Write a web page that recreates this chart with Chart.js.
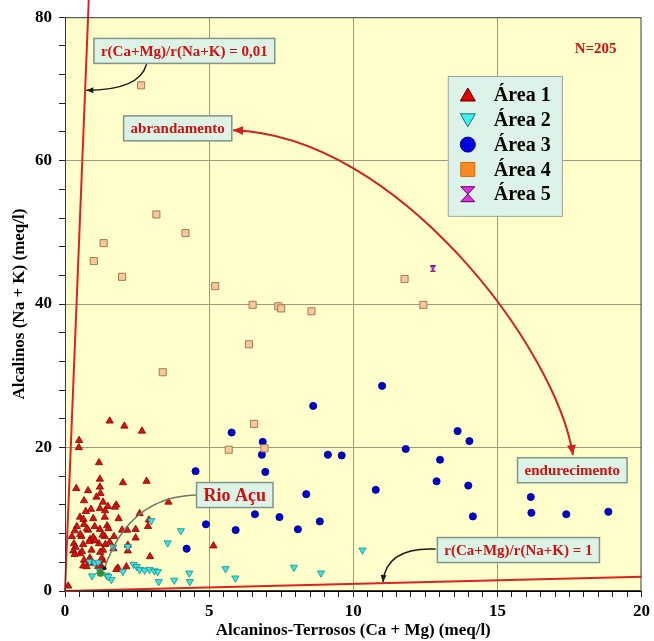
<!DOCTYPE html>
<html>
<head>
<meta charset="utf-8">
<script src="https://cdn.jsdelivr.net/npm/chart.js@4.4.1/dist/chart.umd.min.js"></script>
<style>
  html, body { margin: 0; padding: 0; background: #fff; }
  canvas { display: block; }
</style>
</head>
<body>
<canvas id="chart" width="654" height="641"></canvas>
<script>
// Ca+Mg (x) vs Na+K (y), meq/l, by sampling area
const area1 = [
  [1.55, 23.7], [2.06, 23.0], [2.67, 22.3], [0.49, 21.0], [0.48, 20.0], [1.18, 17.9],
  [2.01, 15.1], [2.83, 15.3], [1.21, 15.6], [0.39, 14.3], [0.80, 14.0], [1.21, 14.5],
  [1.23, 13.6], [1.09, 13.1], [0.66, 12.6], [1.32, 12.4], [1.78, 12.0], [3.59, 12.4],
  [0.90, 11.4], [1.21, 11.5], [1.49, 11.8], [0.72, 11.1], [1.73, 11.7], [1.39, 11.2],
  [2.59, 10.8], [0.52, 10.3], [0.98, 10.1], [1.38, 10.3], [1.86, 10.1], [0.64, 10.0],
  [0.66, 9.3], [1.03, 9.0], [1.46, 9.1], [2.88, 9.0], [2.91, 9.9], [0.41, 9.0],
  [0.34, 8.4], [0.80, 8.5], [1.21, 8.6], [1.98, 8.5], [2.16, 8.5], [2.45, 8.6], [0.76, 8.7], [1.51, 8.7],
  [0.24, 7.6], [0.57, 7.6], [0.98, 7.5], [1.38, 7.6], [1.70, 7.6], [2.45, 7.4], [0.53, 7.9], [0.87, 7.2], [1.30, 7.8],
  [0.31, 6.6], [0.63, 6.5], [0.84, 6.9], [1.18, 6.6], [1.55, 6.8], [2.18, 6.4], [0.36, 6.1], [1.05, 7.0], [1.40, 6.5],
  [0.29, 5.6], [0.52, 5.2], [0.92, 5.7], [1.32, 5.7], [2.18, 5.6], [0.59, 5.5], [1.22, 5.4], [1.68, 5.9], [0.33, 5.1],
  [5.15, 6.3], [0.66, 4.3], [0.86, 4.6], [2.95, 4.8], [1.30, 4.3], [0.87, 3.9], [1.28, 4.6],
  [0.63, 3.5], [0.75, 3.4], [1.27, 3.4], [1.84, 3.2], [2.13, 3.4], [1.78, 3.0], [1.16, 3.4],
  [0.11, 0.7]
];
const area2 = [
  [2.99, 9.8], [4.02, 8.4], [3.56, 6.7], [1.67, 6.1], [2.18, 6.2], [0.86, 4.1], [1.03, 3.9], [1.15, 4.0],
  [0.94, 2.1], [1.44, 2.2], [1.61, 1.6], [1.50, 2.0], [1.21, 2.8], [2.01, 2.7], [2.38, 3.7], [2.49, 3.4],
  [2.59, 3.0], [2.76, 2.9], [2.93, 3.0], [3.10, 2.8], [3.22, 2.7], [3.25, 1.3], [3.79, 1.5], [4.31, 2.5],
  [4.33, 1.3], [5.57, 3.1], [5.91, 1.8], [7.94, 3.3], [8.88, 2.5], [10.32, 5.7]
];
const area3 = [
  [4.53, 16.7], [5.78, 22.1], [6.86, 20.8], [6.83, 19.0], [6.95, 16.6], [8.61, 25.8], [8.37, 13.5],
  [6.59, 10.7], [7.44, 10.3], [4.89, 9.3], [5.92, 8.5], [8.08, 8.6], [8.84, 9.7], [4.22, 5.9],
  [9.12, 19.0], [9.60, 18.9], [11.00, 28.6], [11.82, 19.8], [13.62, 22.3], [14.03, 20.9], [13.01, 18.3],
  [12.89, 15.3], [13.99, 14.7], [10.78, 14.1], [16.16, 13.1], [16.18, 10.9], [17.39, 10.7], [18.85, 11.05],
  [14.15, 10.4]
];
const area4 = [
  [2.64, 70.5], [3.17, 52.5], [1.34, 48.5], [4.18, 49.9], [1.00, 46.0], [1.98, 43.8], [5.21, 42.5],
  [6.51, 39.9], [7.40, 39.7], [7.50, 39.4], [8.55, 39.0], [11.78, 43.5], [12.43, 39.9],
  [6.38, 34.4], [3.39, 30.5], [6.56, 23.3], [6.92, 19.9], [5.68, 19.7]
];
const area5 = [[12.76, 44.9]];
const rioAcu = [[1.23, 2.5]];

// reference lines r(Ca+Mg)/r(Na+K)
const ratioHigh = [[0, 0], [0.824, 82.4]];
const ratioLow = [[0, 0], [20, 2]];

const xTicks = [0, 5, 10, 15, 20];
const yTicks = [0, 20, 40, 60, 80];

const SERIF = '"Liberation Serif", "Times New Roman", serif';
const toPts = arr => arr.map(p => ({ x: p[0], y: p[1] }));

function hourglass(w, h, fill, stroke) {
  const c = document.createElement('canvas');
  c.width = w; c.height = h;
  const g = c.getContext('2d');
  g.fillStyle = fill; g.strokeStyle = stroke; g.lineWidth = 1;
  g.beginPath();
  g.moveTo(0.5, 0.5); g.lineTo(w - 0.5, 0.5);
  g.lineTo(0.5, h - 0.5); g.lineTo(w - 0.5, h - 0.5);
  g.closePath();
  g.fill(); g.stroke();
  return c;
}

// text boxes, centred on data coordinates
const notes = [
  { text: 'r(Ca+Mg)/r(Na+K) = 0,01', x: 4.14, y: 75.3, size: 15 },
  { text: 'abrandamento', x: 3.91, y: 64.5, size: 15 },
  { text: 'endurecimento', x: 17.6, y: 16.84, size: 15 },
  { text: 'Rio Açu', x: 5.89, y: 13.38, size: 18 },
  { text: 'r(Ca+Mg)/r(Na+K) = 1', x: 15.73, y: 5.71, size: 15 }
];

// thin pointers from the boxes (quadratic curves)
const pointers = [
  { from: [2.83, 73.45], via: [2.59, 69.8], to: [0.74, 69.8], color: '#1a1a1a', head: true },
  { from: [12.86, 5.85], via: [11.14, 6.13], to: [11.03, 1.25], color: '#1a1a1a', head: true },
  { from: [4.66, 13.38], via: [2.24, 13.38], to: [1.37, 3.16], color: '#6b7a66', head: false }
];

// softening / hardening arrow (cubic)
const bigArrow = [[5.83, 64.25], [11.55, 63.55], [17.07, 33.6], [17.62, 18.95]];

function arrowHead(ctx, tip, from, len, half) {
  const a = Math.atan2(tip[1] - from[1], tip[0] - from[0]);
  const bx = tip[0] - len * Math.cos(a), by = tip[1] - len * Math.sin(a);
  ctx.beginPath();
  ctx.moveTo(tip[0], tip[1]);
  ctx.lineTo(bx + half * Math.sin(a), by - half * Math.cos(a));
  ctx.lineTo(bx - half * Math.sin(a), by + half * Math.cos(a));
  ctx.closePath();
  ctx.fill();
}

function legendMarker(ctx, ds, x, y) {
  const m = ds.legendMarker;
  ctx.save();
  ctx.fillStyle = m.fill;
  ctx.strokeStyle = m.stroke;
  ctx.lineWidth = 1;
  ctx.beginPath();
  if (m.shape === 'up') {
    ctx.moveTo(x, y - 7); ctx.lineTo(x + 7.5, y + 6); ctx.lineTo(x - 7.5, y + 6); ctx.closePath();
  } else if (m.shape === 'down') {
    ctx.moveTo(x - 7.5, y - 6); ctx.lineTo(x + 7.5, y - 6); ctx.lineTo(x, y + 7); ctx.closePath();
  } else if (m.shape === 'circle') {
    ctx.arc(x, y, 7.5, 0, Math.PI * 2);
  } else if (m.shape === 'square') {
    ctx.rect(x - 7, y - 7, 14, 14);
  } else {
    ctx.moveTo(x - 7, y - 7.5); ctx.lineTo(x + 7, y - 7.5);
    ctx.lineTo(x - 7, y + 7.5); ctx.lineTo(x + 7, y + 7.5); ctx.closePath();
  }
  ctx.fill();
  ctx.stroke();
  ctx.restore();
}

const decor = {
  id: 'decor',
  beforeDraw(chart) {
    const { ctx, chartArea: a } = chart;
    ctx.save();
    ctx.fillStyle = '#ffffff';
    ctx.fillRect(0, 0, chart.width, chart.height);
    ctx.fillStyle = '#ffffcc';
    ctx.fillRect(a.left, a.top, a.right - a.left, a.bottom - a.top);
    ctx.restore();
  },
  afterDatasetsDraw(chart) {
    const { ctx, chartArea: a, scales } = chart;
    const P = p => [scales.x.getPixelForValue(p[0]), scales.y.getPixelForValue(p[1])];
    ctx.save();

    // frame
    ctx.strokeStyle = '#3a3a3a';
    ctx.lineWidth = 1;
    ctx.strokeRect(a.left + 0.5, a.top + 0.5, a.right - a.left - 1, a.bottom - a.top - 1);

    // pointers
    pointers.forEach(p => {
      const f = P(p.from), v = P(p.via), t = P(p.to);
      ctx.strokeStyle = p.color;
      ctx.fillStyle = p.color;
      ctx.lineWidth = 1.5;
      ctx.beginPath();
      ctx.moveTo(f[0], f[1]);
      ctx.quadraticCurveTo(v[0], v[1], t[0], t[1]);
      ctx.stroke();
      if (p.head) {
        arrowHead(ctx, t, v, 7, 3);
      } else {
        ctx.fillStyle = '#111';
        ctx.beginPath();
        ctx.arc(t[0], t[1], 2, 0, Math.PI * 2);
        ctx.fill();
      }
    });

    // big red arrow
    const b = bigArrow.map(P);
    ctx.strokeStyle = '#d42020';
    ctx.fillStyle = '#d42020';
    ctx.lineWidth = 2;
    ctx.beginPath();
    ctx.moveTo(b[0][0], b[0][1]);
    ctx.bezierCurveTo(b[1][0], b[1][1], b[2][0], b[2][1], b[3][0], b[3][1]);
    ctx.stroke();
    arrowHead(ctx, b[0], b[1], 10, 4.5);
    arrowHead(ctx, b[3], b[2], 10, 4.5);

    // labelled boxes
    ctx.textAlign = 'center';
    ctx.textBaseline = 'middle';
    notes.forEach(n => {
      const c = P([n.x, n.y]);
      ctx.font = 'bold ' + n.size + 'px ' + SERIF;
      const w = ctx.measureText(n.text).width + 14;
      const h = 25;
      ctx.fillStyle = '#dcf3e6';
      ctx.fillRect(c[0] - w / 2, c[1] - h / 2, w, h);
      ctx.strokeStyle = '#7f948a';
      ctx.lineWidth = 1.5;
      ctx.strokeRect(c[0] - w / 2, c[1] - h / 2, w, h);
      ctx.fillStyle = '#d01010';
      ctx.fillText(n.text, c[0], c[1] + 1);
    });

    // sample count
    ctx.font = 'bold 15px ' + SERIF;
    ctx.fillStyle = '#d01010';
    const nPos = P([18.41, 75.5]);
    ctx.fillText('N=205', nPos[0], nPos[1]);

    // legend
    const lg = [P([13.28, 71.8]), P([17.24, 52.3])];
    ctx.fillStyle = '#ddf2e8';
    ctx.fillRect(lg[0][0], lg[0][1], lg[1][0] - lg[0][0], lg[1][1] - lg[0][1]);
    ctx.strokeStyle = '#9aa8a0';
    ctx.lineWidth = 1;
    ctx.strokeRect(lg[0][0] + 0.5, lg[0][1] + 0.5, lg[1][0] - lg[0][0], lg[1][1] - lg[0][1]);
    ctx.font = 'bold 20px ' + SERIF;
    ctx.textAlign = 'left';
    ctx.fillStyle = '#000';
    chart.data.datasets.filter(d => d.legendMarker).forEach((d, i) => {
      const y = lg[0][1] + 19 + i * 24.8;
      legendMarker(ctx, d, lg[0][0] + 20, y);
      ctx.fillStyle = '#000';
      ctx.fillText(d.label, lg[0][0] + 46, y + 1);
    });

    ctx.restore();
  }
};

const tickFont = { family: SERIF, weight: 'bold', size: 17 };

new Chart(document.getElementById('chart'), {
  type: 'scatter',
  data: {
    datasets: [
      { label: 'ratio 0,01', data: toPts(ratioHigh), showLine: true, borderColor: '#dd2222', borderWidth: 2, pointRadius: 0, clip: false, order: 0 },
      { label: 'ratio 1', data: toPts(ratioLow), showLine: true, borderColor: '#dd2222', borderWidth: 2, pointRadius: 0, clip: false, order: 0 },
      { label: 'Rio Açu', data: toPts(rioAcu), pointStyle: 'star', pointRadius: 4, pointBorderColor: '#2e8b2e', pointBorderWidth: 2, order: 1 },
      { label: 'Área 1', data: toPts(area1), pointStyle: 'triangle', pointRadius: 4.2, pointBackgroundColor: '#d81010', pointBorderColor: '#8a0000', pointBorderWidth: 0.8, order: 6,
        legendMarker: { shape: 'up', fill: '#e00000', stroke: '#600000' } },
      { label: 'Área 2', data: toPts(area2), pointStyle: 'triangle', pointRotation: 180, pointRadius: 4.2, pointBackgroundColor: '#38e4e4', pointBorderColor: '#1c8c8c', pointBorderWidth: 0.8, order: 5,
        legendMarker: { shape: 'down', fill: '#40f0f0', stroke: '#1a7070' } },
      { label: 'Área 3', data: toPts(area3), pointStyle: 'circle', pointRadius: 3.6, pointBackgroundColor: '#0000d0', pointBorderColor: '#000080', pointBorderWidth: 0.8, order: 4,
        legendMarker: { shape: 'circle', fill: '#0000e0', stroke: '#000070' } },
      { label: 'Área 4', data: toPts(area4), pointStyle: 'rect', pointRadius: 5, pointBackgroundColor: '#f6c89c', pointBorderColor: '#a87850', pointBorderWidth: 1, order: 3,
        legendMarker: { shape: 'square', fill: '#f88a1e', stroke: '#d06a10' } },
      { label: 'Área 5', data: toPts(area5), pointStyle: hourglass(6, 7, '#e030e0', '#7a107a'), order: 2,
        legendMarker: { shape: 'hourglass', fill: '#e030e0', stroke: '#600060' } }
    ]
  },
  options: {
    responsive: false,
    devicePixelRatio: 1,
    animation: false,
    layout: { padding: { top: 17, right: 10, left: 0, bottom: 0 } },
    plugins: { legend: { display: false }, tooltip: { enabled: false } },
    scales: {
      x: {
        type: 'linear', min: 0, max: 20,
        afterFit: s => { s.height = 50; },
        ticks: {
          stepSize: 0.5, autoSkip: false, maxRotation: 0, padding: 4, color: '#000', font: tickFont,
          callback: v => xTicks.includes(v) ? String(v) : ''
        },
        grid: {
          color: c => (c.tick && c.tick.value % 5 === 0 && c.tick.value > 0 && c.tick.value < 20) ? '#9d9d7a' : 'rgba(0,0,0,0)',
          tickColor: '#222', tickLength: 6, lineWidth: 1
        },
        border: { color: '#000', width: 1 },
        title: { display: true, text: 'Alcaninos-Terrosos (Ca + Mg) (meq/l)', color: '#000', font: tickFont, padding: { top: 0, bottom: 0 } }
      },
      y: {
        type: 'linear', min: 0, max: 80,
        afterFit: s => { s.width = 65; },
        ticks: {
          stepSize: 4, autoSkip: false, padding: 7, color: '#000', font: tickFont,
          callback: v => yTicks.includes(v) ? String(v) : ''
        },
        grid: {
          color: c => (c.tick && c.tick.value % 20 === 0 && c.tick.value > 0 && c.tick.value < 80) ? '#9d9d7a' : 'rgba(0,0,0,0)',
          tickColor: '#222', tickLength: 6, lineWidth: 1
        },
        border: { color: '#000', width: 1 },
        title: { display: true, text: 'Alcalinos (Na + K) (meq/l)', color: '#000', font: tickFont, padding: { top: 9, bottom: 0 } }
      }
    }
  },
  plugins: [decor]
});
</script>
</body>
</html>
